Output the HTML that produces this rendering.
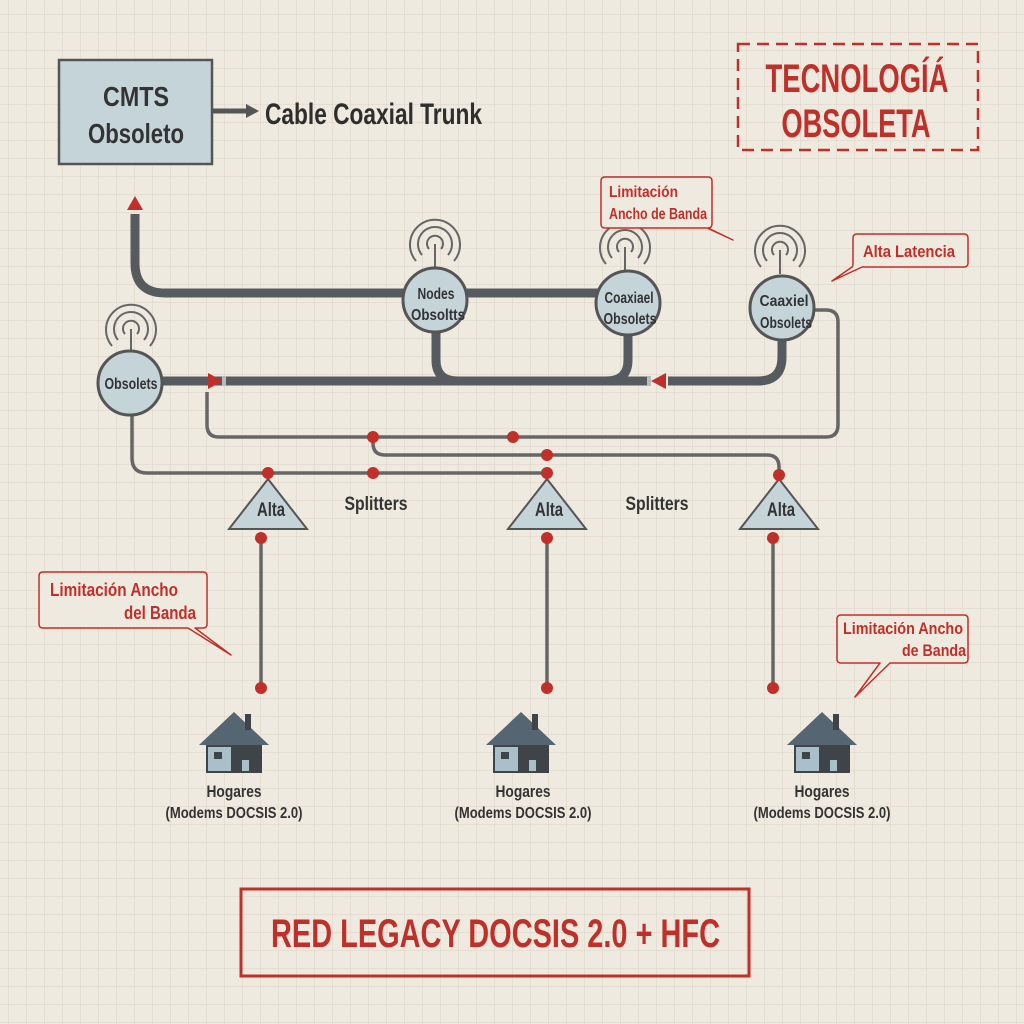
<!DOCTYPE html>
<html><head><meta charset="utf-8"><style>
html,body{margin:0;padding:0;background:#efeadf;}
svg{display:block;}
text{font-family:"Liberation Sans Narrow","Liberation Sans",sans-serif;font-weight:bold;}
</style></head><body>
<svg width="1024" height="1024" viewBox="0 0 1024 1024" xmlns="http://www.w3.org/2000/svg">
<defs>
<pattern id="g" width="18" height="18" patternUnits="userSpaceOnUse" x="8" y="14">
<path d="M0 0H18M0 0V18" stroke="#dcd3c6" stroke-width="1.1" fill="none"/>
</pattern>
<g id="ant" fill="none" stroke="#666" stroke-width="2">
<path d="M-6 5A8 8 0 1 1 6 5"/><path d="M-13 11A17 17 0 1 1 13 11"/><path d="M-19 17A25 25 0 1 1 19 17"/><line x1="0" y1="0" x2="0" y2="24"/>
</g>
<g id="house">
<path d="M0 0L-35 33H35Z" fill="#556672"/>
<rect x="11" y="2" width="6" height="16" fill="#3f4448"/>
<rect x="-28" y="33" width="56" height="28" fill="#3f4448"/>
<rect x="-26" y="35" width="23" height="24" fill="#a9c0cb"/>
<rect x="-20" y="40" width="8" height="7" fill="#3f4448"/>
<rect x="8" y="48" width="7" height="11" fill="#a9c0cb"/>
</g>
</defs>
<rect width="1024" height="1024" fill="#efeadf"/>
<rect width="1024" height="1024" fill="url(#g)"/>

<!-- CMTS -->
<rect x="59" y="60" width="153" height="104" fill="#c5d4d9" stroke="#555" stroke-width="2.5"/>
<g lengthAdjust="spacingAndGlyphs">
<text x="136" y="106" font-size="28" text-anchor="middle" fill="#333" textLength="66" lengthAdjust="spacingAndGlyphs">CMTS</text>
<text x="136" y="143" font-size="28" text-anchor="middle" fill="#333" textLength="96" lengthAdjust="spacingAndGlyphs">Obsoleto</text>
</g>
<line x1="213" y1="111" x2="248" y2="111" stroke="#555" stroke-width="5"/>
<path d="M246 104L259 111L246 118Z" fill="#555"/>
<text x="265" y="124" font-size="30" fill="#2e2e2e" textLength="217" lengthAdjust="spacingAndGlyphs">Cable Coaxial Trunk</text>

<!-- TECNOLOGIA -->
<rect x="738" y="44" width="240" height="106" fill="none" stroke="#c0302a" stroke-width="2.5" stroke-dasharray="12,7"/>
<text x="857" y="92" font-size="40" text-anchor="middle" fill="#c0302a" textLength="183" lengthAdjust="spacingAndGlyphs">TECNOLOGÍÁ</text>
<text x="856" y="137" font-size="40" text-anchor="middle" fill="#c0302a" textLength="149" lengthAdjust="spacingAndGlyphs">OBSOLETA</text>

<!-- thick trunk -->
<g fill="none" stroke="#555b5e" stroke-width="9" stroke-linecap="butt">
<path d="M135 214V263Q135 293 165 293H628"/>
<path d="M163 381H648"/>
<path d="M668 381H758Q782 381 782 357V335"/>
<path d="M436 330V360Q436 381 458 381"/>
<path d="M628 332V360Q628 381 606 381"/>
</g>
<path d="M127 210L135 196L143 210Z" fill="#c0302a"/>
<path d="M208 373L223 381L208 389Z" fill="#c0302a"/>
<rect x="222" y="376" width="4" height="10" fill="#bbb"/>
<path d="M666 373L651 381L666 389Z" fill="#c0302a"/>
<rect x="647" y="376" width="4" height="10" fill="#bbb"/>

<!-- thin lines -->
<g fill="none" stroke="#666" stroke-width="3.5">
<path d="M207 392V425Q207 437 219 437H826Q838 437 838 425V322Q838 310 826 310H812"/>
<path d="M373 437V443Q373 455 385 455H767Q779 455 779 467V475"/>
<path d="M132 415V458Q132 473 147 473H547"/>
<line x1="261" y1="538" x2="261" y2="688"/>
<line x1="547" y1="538" x2="547" y2="688"/>
<line x1="773" y1="538" x2="773" y2="688"/>
</g>

<!-- nodes -->
<g stroke="#555" stroke-width="3" fill="#c5d4d9">
<use href="#ant" x="435" y="244"/>
<use href="#ant" x="625" y="247"/>
<use href="#ant" x="780" y="250"/>
<use href="#ant" x="131" y="329"/>
<circle cx="435" cy="300" r="32"/>
<circle cx="628" cy="303" r="32"/>
<circle cx="782" cy="308" r="32"/>
<circle cx="130" cy="383" r="32"/>
</g>
<g font-size="16" fill="#333" text-anchor="middle">
<text x="436" y="299" textLength="37" lengthAdjust="spacingAndGlyphs">Nodes</text>
<text x="438" y="320" textLength="54" lengthAdjust="spacingAndGlyphs">Obsoltts</text>
<text x="629" y="303" textLength="49" lengthAdjust="spacingAndGlyphs">Coaxiael</text>
<text x="630" y="324" textLength="53" lengthAdjust="spacingAndGlyphs">Obsolets</text>
<text x="784" y="306" textLength="49" lengthAdjust="spacingAndGlyphs">Caaxiel</text>
<text x="786" y="328" textLength="52" lengthAdjust="spacingAndGlyphs">Obsolets</text>
<text x="131" y="389" textLength="53" lengthAdjust="spacingAndGlyphs">Obsolets</text>
</g>

<!-- splitters -->
<g fill="#c5d4d9" stroke="#555" stroke-width="2">
<path d="M229 529L268 479L307 529Z"/>
<path d="M508 529L547 479L586 529Z"/>
<path d="M740 529L779 479L818 529Z"/>
</g>
<g font-size="19" fill="#333" text-anchor="middle">
<text x="271" y="516" textLength="28" lengthAdjust="spacingAndGlyphs">Alta</text>
<text x="549" y="516" textLength="28" lengthAdjust="spacingAndGlyphs">Alta</text>
<text x="781" y="516" textLength="28" lengthAdjust="spacingAndGlyphs">Alta</text>
<text x="376" y="510" textLength="63" lengthAdjust="spacingAndGlyphs">Splitters</text>
<text x="657" y="510" textLength="63" lengthAdjust="spacingAndGlyphs">Splitters</text>
</g>

<!-- dots -->
<g fill="#c0302a">
<circle cx="373" cy="437" r="6"/><circle cx="513" cy="437" r="6"/>
<circle cx="547" cy="455" r="6"/><circle cx="268" cy="473" r="6"/>
<circle cx="373" cy="473" r="6"/><circle cx="547" cy="473" r="6"/>
<circle cx="779" cy="475" r="6"/>
<circle cx="261" cy="538" r="6"/><circle cx="547" cy="538" r="6"/><circle cx="773" cy="538" r="6"/>
<circle cx="261" cy="688" r="6"/><circle cx="547" cy="688" r="6"/><circle cx="773" cy="688" r="6"/>
</g>

<!-- houses -->
<use href="#house" x="234" y="712"/>
<use href="#house" x="521" y="712"/>
<use href="#house" x="822" y="712"/>
<g fill="#333" text-anchor="middle">
<text x="234" y="797" font-size="17" textLength="55" lengthAdjust="spacingAndGlyphs">Hogares</text>
<text x="234" y="818" font-size="16" textLength="137" lengthAdjust="spacingAndGlyphs">(Modems DOCSIS 2.0)</text>
<text x="523" y="797" font-size="17" textLength="55" lengthAdjust="spacingAndGlyphs">Hogares</text>
<text x="523" y="818" font-size="16" textLength="137" lengthAdjust="spacingAndGlyphs">(Modems DOCSIS 2.0)</text>
<text x="822" y="797" font-size="17" textLength="55" lengthAdjust="spacingAndGlyphs">Hogares</text>
<text x="822" y="818" font-size="16" textLength="137" lengthAdjust="spacingAndGlyphs">(Modems DOCSIS 2.0)</text>
</g>

<!-- callouts -->
<g fill="#efeadf" stroke="#c0302a" stroke-width="1.5" stroke-linejoin="round">
<path d="M43 572H203Q207 572 207 576V624Q207 628 203 628H195L231 655L188 628H43Q39 628 39 624V576Q39 572 43 572Z"/>
<path d="M605 177H708Q712 177 712 181V224Q712 228 708 228L733 240L707 228H605Q601 228 601 224V181Q601 177 605 177Z"/>
<path d="M857 234H964Q968 234 968 238V263Q968 267 964 267H862L832 281L852 267Q853 267 853 263V238Q853 234 857 234Z"/>
<path d="M841 615H964Q968 615 968 619V659Q968 663 964 663H890L855 697L880 663H841Q837 663 837 659V619Q837 615 841 615Z"/>
</g>
<g fill="#c0302a">
<text x="50" y="596" font-size="18" textLength="128" lengthAdjust="spacingAndGlyphs">Limitación Ancho</text>
<text x="124" y="619" font-size="18" textLength="72" lengthAdjust="spacingAndGlyphs">del Banda</text>
<text x="609" y="197" font-size="16" textLength="69" lengthAdjust="spacingAndGlyphs">Limitación</text>
<text x="609" y="219" font-size="16" textLength="98" lengthAdjust="spacingAndGlyphs">Ancho de Banda</text>
<text x="863" y="257" font-size="17" textLength="92" lengthAdjust="spacingAndGlyphs">Alta Latencia</text>
<text x="843" y="634" font-size="17" textLength="120" lengthAdjust="spacingAndGlyphs">Limitación Ancho</text>
<text x="902" y="656" font-size="17" textLength="64" lengthAdjust="spacingAndGlyphs">de Banda</text>
</g>

<!-- bottom title -->
<rect x="241" y="889" width="508" height="87" fill="none" stroke="#c0302a" stroke-width="3"/>
<text x="271" y="947" font-size="40" fill="#c0302a" textLength="449" lengthAdjust="spacingAndGlyphs">RED LEGACY DOCSIS 2.0 + HFC</text>
</svg>
</body></html>
